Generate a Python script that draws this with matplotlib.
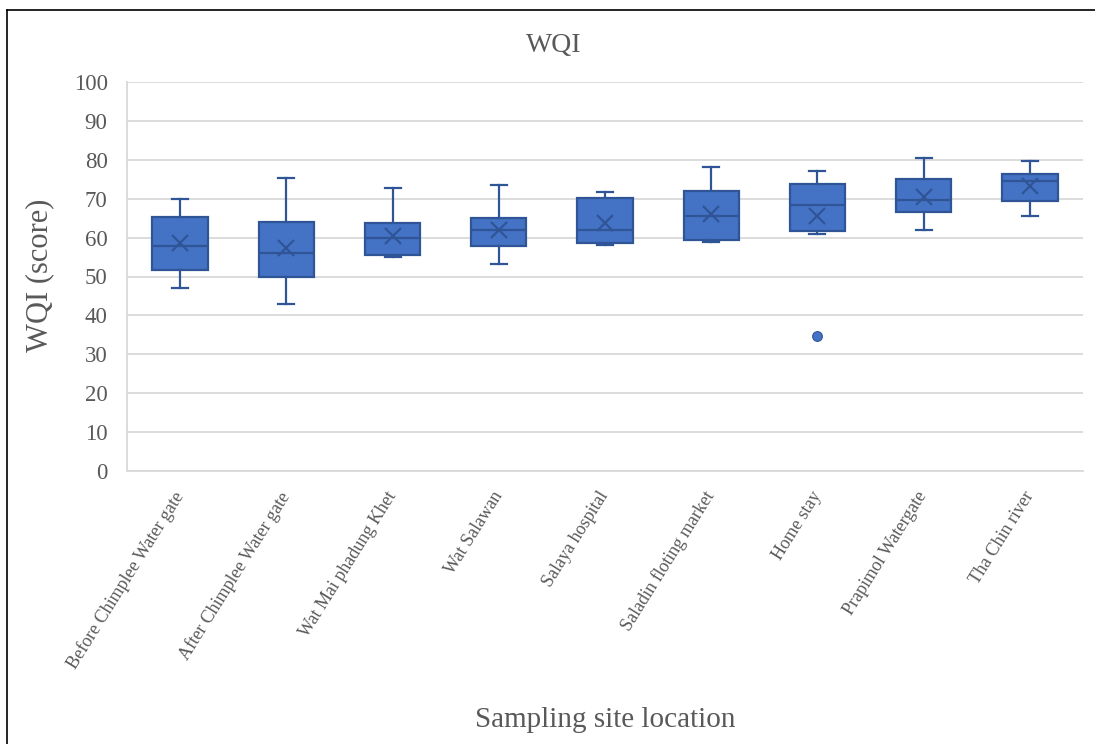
import matplotlib
matplotlib.use("Agg")
import matplotlib.pyplot as plt
from matplotlib.lines import Line2D

# Sampling sites along the canal
sites = [
    "Before Chimplee Water gate",
    "After Chimplee Water gate",
    "Wat Mai phadung Khet",
    "Wat Salawan",
    "Salaya hospital",
    "Saladin floting market",
    "Home stay",
    "Prapimol Watergate",
    "Tha Chin river",
]

# WQI box statistics per site
whisker_low = [47.1, 43.0, 54.9, 53.1, 58.2, 58.9, 60.9, 61.9, 65.5]
q1 = [51.7, 50.0, 55.4, 57.8, 58.7, 59.3, 61.8, 66.7, 69.3]
median = [57.9, 56.1, 59.9, 62.0, 62.0, 65.6, 68.3, 69.7, 74.6]
q3 = [65.4, 64.1, 63.7, 65.0, 70.1, 72.1, 73.8, 75.1, 76.3]
whisker_high = [69.8, 75.4, 72.8, 73.5, 71.8, 78.1, 77.2, 80.5, 79.6]
mean = [58.5, 57.4, 60.5, 62.0, 63.7, 66.0, 65.6, 70.4, 73.3]
outliers = [[], [], [], [], [], [], [34.7], [], []]

y_ticks = list(range(0, 101, 10))

FILL = "#4472C4"
EDGE = "#2F5597"
TEXT = "#595959"
GRID = "#D9D9D9"
SERIF = ["Liberation Serif", "DejaVu Serif"]

plt.rcParams["font.family"] = SERIF

fig = plt.figure(figsize=(10.95, 7.44), dpi=100)
ax = fig.add_axes([127 / 1095, 1 - 471 / 744, (1083 - 127) / 1095, (471 - 82) / 744])

stats = []
for i, name in enumerate(sites):
    stats.append(dict(
        label=name, whislo=whisker_low[i], q1=q1[i], med=median[i],
        q3=q3[i], whishi=whisker_high[i], mean=mean[i], fliers=outliers[i],
    ))

positions = list(range(1, len(sites) + 1))
ax.bxp(
    stats, positions=positions, widths=0.52, patch_artist=True,
    showmeans=True, showfliers=True,
    boxprops=dict(facecolor=FILL, edgecolor=EDGE, linewidth=1.6),
    medianprops=dict(color=EDGE, linewidth=1.6),
    whiskerprops=dict(color=EDGE, linewidth=1.6),
    capprops=dict(color=EDGE, linewidth=1.6),
    capwidths=0.15,
    meanprops=dict(marker="x", markeredgecolor=EDGE, markersize=12,
                   markeredgewidth=1.6),
    flierprops=dict(marker="o", markerfacecolor=FILL, markeredgecolor=EDGE,
                    markersize=7, markeredgewidth=0.8),
)

ax.set_xlim(0.5, len(sites) + 0.5)
ax.set_ylim(0, 100)
ax.set_yticks(y_ticks)
ax.yaxis.grid(True, color=GRID, linewidth=1.3)
ax.set_axisbelow(True)
for side in ("top", "right"):
    ax.spines[side].set_visible(False)
for side in ("left", "bottom"):
    ax.spines[side].set_color(GRID)
    ax.spines[side].set_linewidth(1.3)

ax.tick_params(axis="y", length=0, pad=14, labelsize=16.5, labelcolor=TEXT)
ax.tick_params(axis="x", length=0, pad=16, labelsize=13, labelcolor=TEXT)
ax.set_xticks(positions)
ax.set_xticklabels(sites, rotation=58, ha="right", va="center",
                   rotation_mode="anchor")

fig.text(554 / 1095, 1 - 45 / 744, "WQI", ha="center", va="center",
         fontsize=20, color=TEXT)
fig.text(40 / 1095, 1 - 275 / 744, "WQI (score)", ha="center", va="center",
         rotation=90, fontsize=22, color=TEXT)
fig.text(605 / 1095, 1 - 720 / 744, "Sampling site location", ha="center",
         va="center", fontsize=21, color=TEXT)

# Frame lines along the top and left edges
fig.add_artist(Line2D([7 / 1095, 1.0], [1 - 10 / 744, 1 - 10 / 744],
                      color="black", linewidth=1.2, transform=fig.transFigure))
fig.add_artist(Line2D([7 / 1095, 7 / 1095], [0.0, 1 - 10 / 744],
                      color="black", linewidth=1.2, transform=fig.transFigure))

fig.savefig("out.png", dpi=100, facecolor="white")
